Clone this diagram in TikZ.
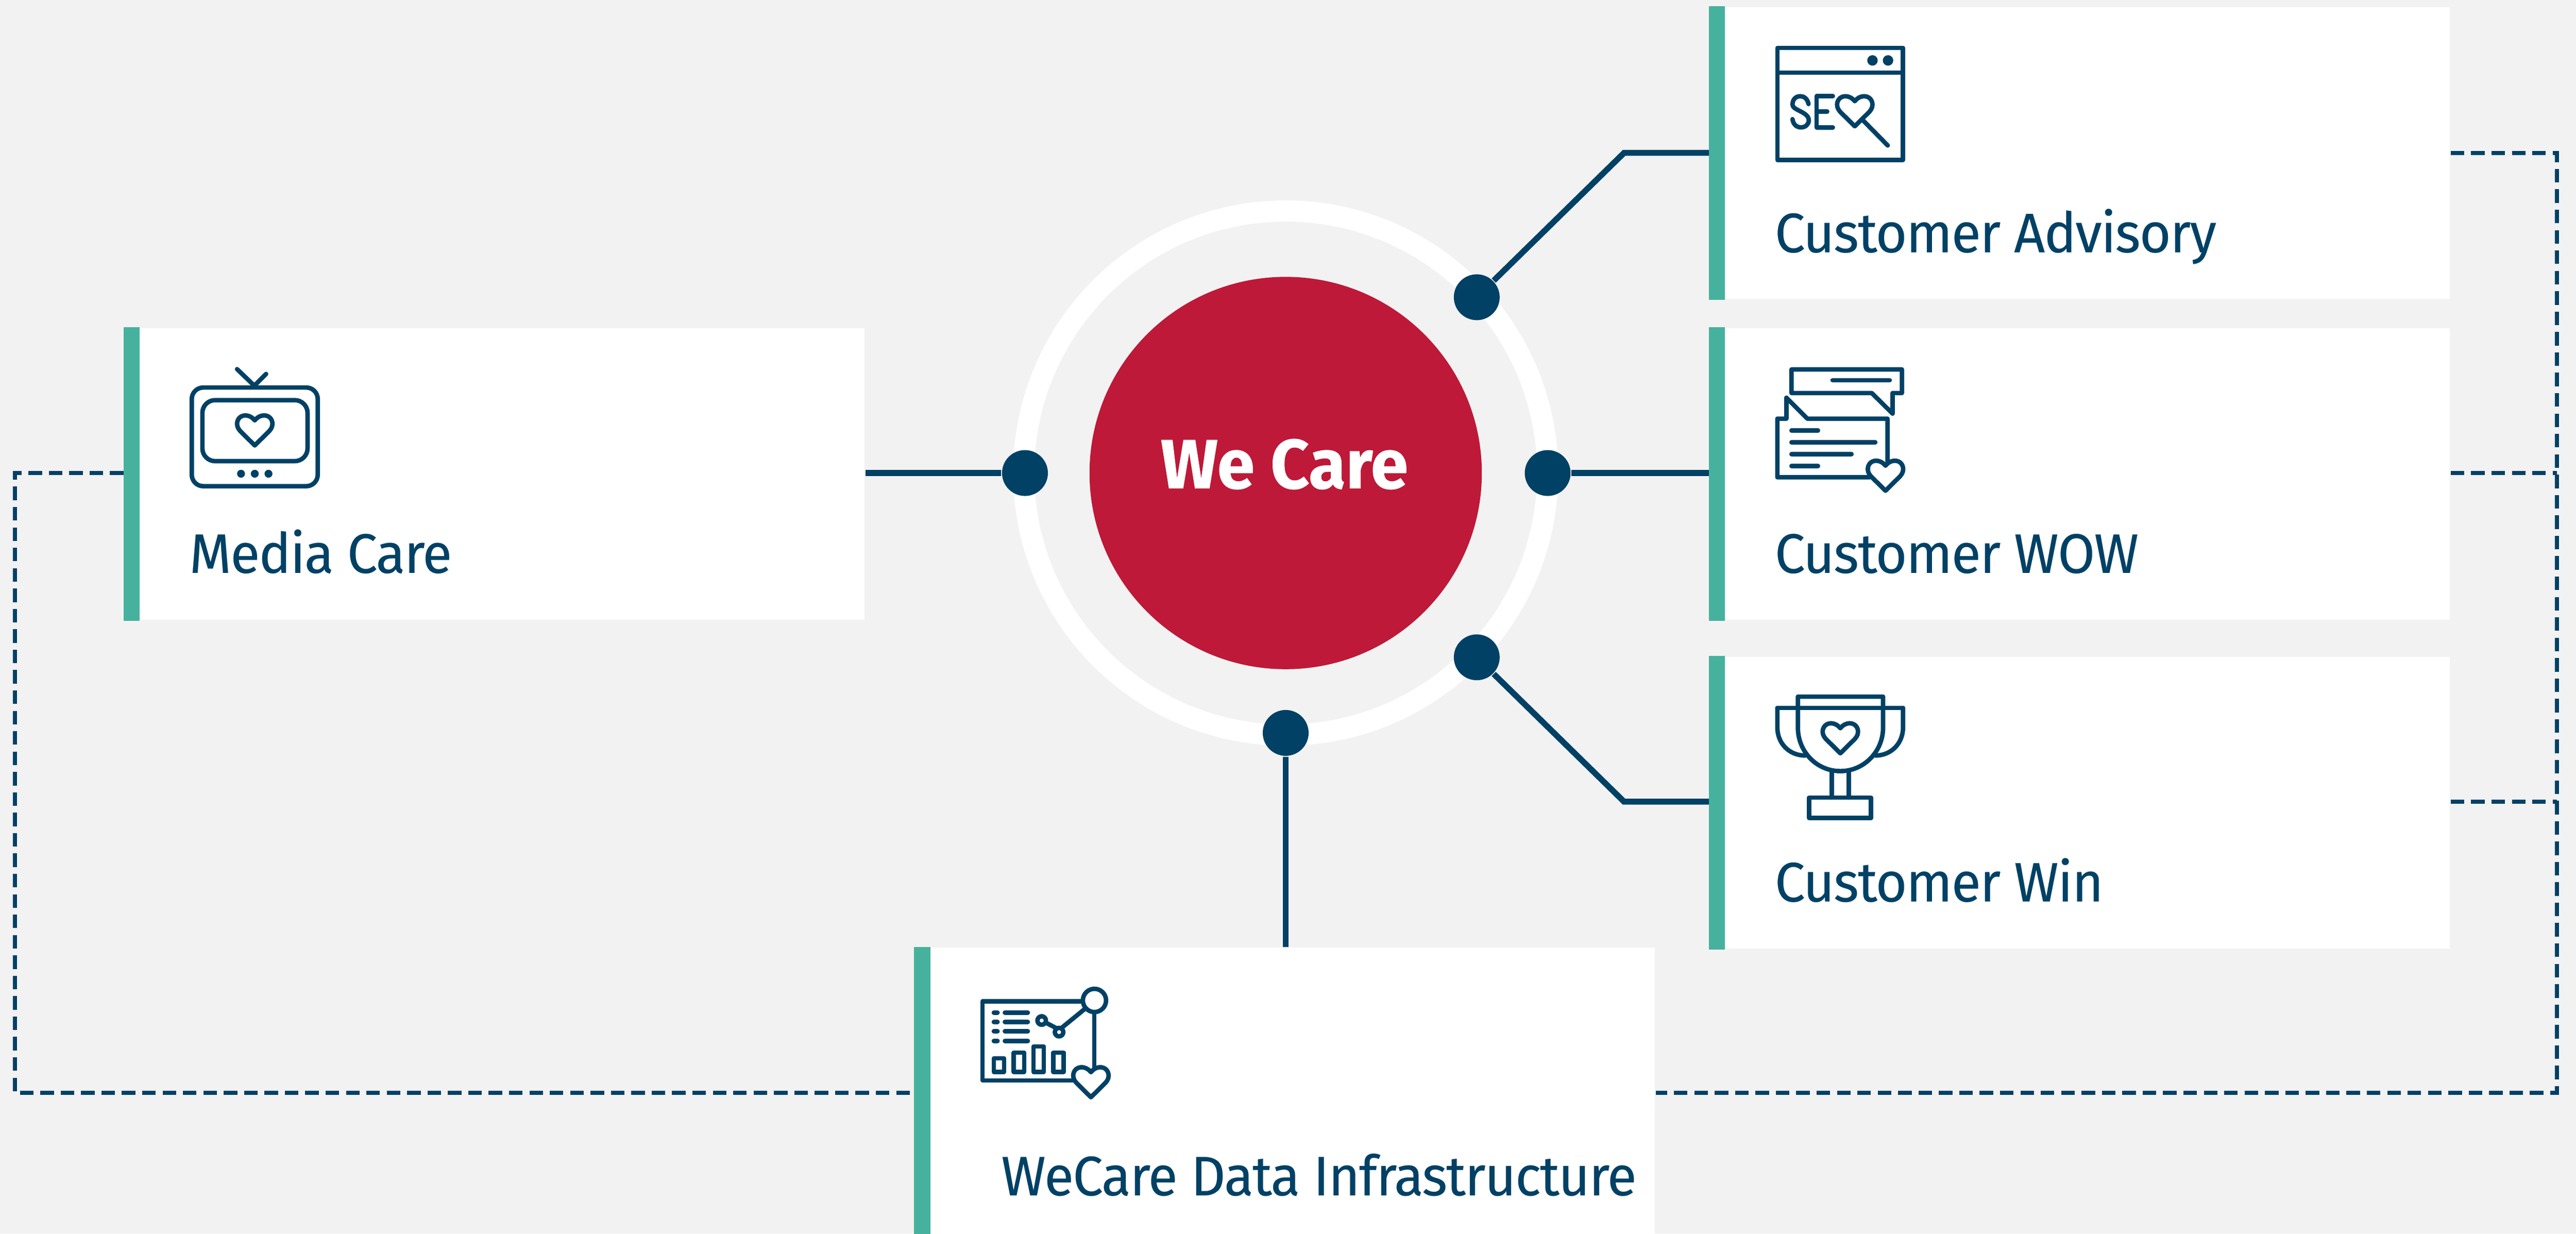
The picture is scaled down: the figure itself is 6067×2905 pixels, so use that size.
\documentclass[tikz,border=0pt]{standalone}
\usepackage{fontspec}
\setmainfont{Fira Sans}
\newfontfamily\labf[FakeStretch=0.97,LetterSpace=-1.7,FakeBold=0.2]{Fira Sans}
\newfontfamily\hubf[FakeStretch=0.97,FakeBold=0.5]{Fira Sans}
\definecolor{navy}{HTML}{004165}
\definecolor{bgc}{HTML}{F2F2F2}
\definecolor{redc}{HTML}{BE1938}
\definecolor{tealc}{HTML}{46B29D}
\newcommand{\hrt}[2]{\draw[ic,fill=white,shift={(#1,#2)}] (0,0) .. controls (-20,-25) and (-45,-35) .. (-65,-35) .. controls (-105,-35) and (-125,-5) .. (-125,25) .. controls (-125,50) and (-110,70) .. (-90,88) -- (0,177) -- (90,88) .. controls (110,70) and (125,50) .. (125,25) .. controls (125,-5) and (105,-35) .. (65,-35) .. controls (45,-35) and (20,-25) .. (0,0) -- cycle;}
\tikzset{
 x=0.1pt,y=-0.1pt,
 card/.style={rectangle,fill=white,inner sep=0pt,minimum width=174.3pt,minimum height=#1},
 card/.default=68.7pt,
 conn/.style={draw=navy,line width=1.4pt},
 bus/.style={draw=navy,line width=0.95pt,dash pattern=on 3.2pt off 1.6pt},
 pin/.style={circle,fill=navy,inner sep=0pt,minimum size=10.8pt},
 lab/.style={text=navy,font=\labf\fontsize{13.1pt}{16pt}\selectfont,anchor=base west,inner sep=0pt},
 ic/.style={draw=navy,line width=1.05pt,line join=round,line cap=round},
 zoomA/.style={shift={(#1)},scale=0.33333},
}
\begin{document}
\begin{tikzpicture}
\useasboundingbox[fill=bgc] (0,0) rectangle (6067,2905);
% cards
\node[card,anchor=north west] (cadv) at (4025,15) {};
\node[card,anchor=north west] (cwow) at (4025,771) {};
\node[card,anchor=north west] (cwin) at (4025,1545) {};
\node[card,anchor=north west] (mcare) at (291,771) {};
\node[card=67.5pt,anchor=north west] (data) at (2153,2230) {};
\foreach \b in {cadv,cwow,cwin,mcare,data}
  \fill[tealc] (\b.north west) rectangle ([xshift=3.8pt]\b.south west);
% ring and hub
\node[circle,draw=white,line width=5pt,inner sep=0pt,minimum size=123.4pt] (ring) at (3028,1114) {};
\node[circle,fill=redc,inner sep=0pt,minimum size=92.4pt] (hub) at (3028,1114) {};
\node[text=white,font=\hubf\fontsize{16.4pt}{20pt}\selectfont\bfseries,anchor=base,inner sep=0pt] (thub) at (3025,1150) {We Care};
% pins
\node[pin] (pm) at (2414,1114) {};
\node[pin] (pw) at (3645,1114) {};
\node[pin] (pa) at (3478,700) {};
\node[pin] (pn) at (3478,1548) {};
\node[pin] (pd) at (3028,1726) {};
% corners
\coordinate (ka) at (3825,360);
\coordinate (kn) at (3825,1888);
\coordinate (rt) at (6022,360);
\coordinate (rm) at (6022,1114);
\coordinate (rn) at (6022,1888);
\coordinate (rb) at (6022,2574);
\coordinate (lt) at (35,1114);
\coordinate (lb) at (35,2574);
% connectors
\draw[conn] (pa) -- (ka) -- (ka -| cadv.west);
\draw[conn] (pn) -- (kn) -- (kn -| cwin.west);
\draw[conn] (pw) -- (pw -| cwow.west);
\draw[conn] (mcare.east |- pm) -- (pm);
\draw[conn] (pd) -- (data.north -| pd);
\draw[bus] (rt -| cadv.east) -- (rt) -- (rb) -- (rb -| data.east);
\draw[bus] (rm -| cwow.east) -- (rm);
\draw[bus] (rn -| cwin.east) -- (rn);
\draw[bus] (lt -| mcare.west) -- (lt) -- (lb) -- (lb -| data.west);
% labels
\node[lab] (tadv) at (4178,594) {Customer Advisory};
\node[lab] (twow) at (4178,1349) {Customer WOW};
\node[lab] (twin) at (4178,2123) {Customer Win};
\node[lab] (tmed) at (444,1349) {Media Care};
\node[lab] (tdat) at (2356,2815) {WeCare Data Infrastructure};
% SEO icon
\begin{scope}[zoomA={4100,60}]
 \draw[ic,line cap=butt] (258,158) rectangle (1146,950);
 \draw[ic,line cap=butt] (258,333) -- (1146,333);
 \fill[navy] (930,247) circle (37) (1040,247) circle (37);
 \draw[ic] (478,555) .. controls (470,515) and (445,500) .. (420,500) .. controls (385,500) and (365,525) .. (365,560) .. controls (365,600) and (480,610) .. (480,670) .. controls (480,700) and (455,720) .. (425,720) .. controls (395,720) and (370,700) .. (365,662);
 \draw[ic] (650,500) -- (535,500) -- (535,720) -- (650,720) (535,608) -- (610,608);
 \hrt{805}{535}
 \draw[ic] (865,672) -- (1038,848);
\end{scope}
% WOW icon
\begin{scope}[zoomA={4100,830}]
 \draw[ic] (358,120) -- (1138,120) -- (1138,287) -- (1072,287) -- (1072,432) -- (925,287) -- (358,287) -- cycle;
 \draw[ic] (648,196) -- (1052,196);
 \draw[ic] (258,468) -- (322,468) -- (322,320) -- (470,468) -- (1036,468) -- (1036,780) (258,468) -- (258,882) -- (910,882);
 \draw[ic] (358,552) -- (545,552) (358,635) -- (950,635) (358,718) -- (782,718) (358,802) -- (545,802);
 \hrt{1022}{800}
\end{scope}
% Trophy icon
\begin{scope}[zoomA={4100,1600}]
 \draw[ic] (258,202) -- (1146,202);
 \draw[ic] (258,202) -- (258,340) .. controls (258,450) and (340,538) .. (455,538);
 \draw[ic] (1146,202) -- (1146,340) .. controls (1146,450) and (1064,538) .. (950,538);
 \draw[ic] (403,122) -- (1005,122) -- (1005,340) .. controls (1005,510) and (870,648) .. (703,648) .. controls (535,648) and (403,510) .. (403,340) -- cycle;
 \hrt{703}{345}
 \draw[ic] (643,648) -- (643,835) (762,648) -- (762,835);
 \draw[ic] (483,835) rectangle (920,980);
\end{scope}
% TV icon
\begin{scope}[zoomA={400,830}]
 \draw[ic,rounded corners=2.7pt] (155,248) rectangle (1045,945);
 \draw[ic,rounded corners=3pt] (230,337) rectangle (973,768);
 \draw[ic] (475,118) -- (597,235) -- (680,152);
 \hrt{600}{480}
 \fill[navy] (503,857) circle (28) (600,857) circle (28) (697,857) circle (28);
\end{scope}
% Data icon
\begin{scope}[zoomA={2260,2290}]
 \draw[ic] (865,205) -- (162,205) -- (162,763) -- (810,763);
 \draw[ic] (952,285) -- (952,690);
 \draw[ic] (953,198) circle (82);
 \draw[ic] (880,262) -- (705,405) -- (580,340);
 \draw[ic,fill=white] (580,340) circle (30) (703,422) circle (30);
 \foreach \yy in {284,350,416,484} {\draw[ic] (242,\yy) -- (268,\yy) (320,\yy) -- (482,\yy);}
 \draw[ic] (242,607) rectangle (315,703) (383,567) rectangle (457,703) (522,523) rectangle (595,703) (662,567) rectangle (735,703);
 \hrt{928}{705}
\end{scope}
\end{tikzpicture}
\end{document}
